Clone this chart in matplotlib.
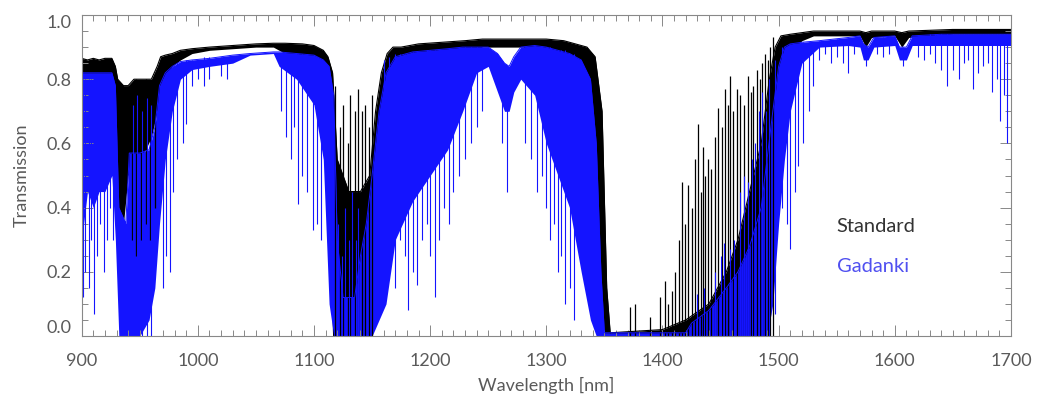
import numpy as np
import matplotlib.pyplot as plt

# ---- Standard atmosphere (black): dense part of the line forest ----
std_wl = [900, 905, 910, 915, 920, 926, 929, 931, 936, 940, 945, 950, 955, 960, 965, 968,
          972, 978, 985, 995, 1010, 1030, 1050, 1065, 1075, 1090, 1100, 1108, 1112, 1116,
          1120, 1130, 1140, 1148, 1153, 1158, 1163, 1168, 1175, 1190, 1210, 1230, 1245,
          1260, 1280, 1300, 1315, 1325, 1335, 1342, 1348, 1352, 1355, 1400, 1420, 1440,
          1455, 1465, 1475, 1485, 1492, 1497, 1502, 1510, 1520, 1530, 1570, 1575, 1580,
          1600, 1606, 1612, 1650, 1700]
std_hi = [0.865, 0.86, 0.865, 0.86, 0.865, 0.865, 0.84, 0.80, 0.78, 0.78, 0.80, 0.80, 0.80,
          0.80, 0.84, 0.87, 0.875, 0.88, 0.89, 0.895, 0.90, 0.905, 0.91, 0.912, 0.912, 0.91,
          0.905, 0.89, 0.87, 0.82, 0.55, 0.45, 0.45, 0.50, 0.70, 0.82, 0.88, 0.90, 0.90,
          0.91, 0.915, 0.92, 0.925, 0.925, 0.925, 0.925, 0.92, 0.91, 0.90, 0.87, 0.70, 0.15,
          0.01, 0.02, 0.05, 0.10, 0.20, 0.30, 0.45, 0.60, 0.80, 0.90, 0.935, 0.94, 0.945,
          0.95, 0.95, 0.945, 0.95, 0.95, 0.945, 0.95, 0.955, 0.955]
std_lo = [0.76, 0.78, 0.78, 0.78, 0.78, 0.78, 0.60, 0.35, 0.35, 0.50, 0.55, 0.55, 0.58,
          0.62, 0.70, 0.75, 0.80, 0.84, 0.86, 0.88, 0.89, 0.895, 0.90, 0.90, 0.88, 0.86,
          0.82, 0.75, 0.45, 0.00, 0.00, 0.00, 0.00, 0.00, 0.10, 0.30, 0.50, 0.70, 0.76,
          0.80, 0.82, 0.86, 0.90, 0.90, 0.90, 0.86, 0.78, 0.60, 0.30, 0.05, 0.00, 0.00,
          0.00, 0.00, 0.00, 0.00, 0.00, 0.00, 0.00, 0.00, 0.00, 0.30, 0.70, 0.88, 0.92,
          0.935, 0.935, 0.90, 0.93, 0.935, 0.90, 0.93, 0.94, 0.94]

# individual lines / windows of the standard spectrum
std_line_wl = [943, 947, 951, 955, 959, 963,
               1118, 1122, 1125, 1129, 1131, 1135, 1138, 1141, 1144, 1147, 1150,
               1372, 1376, 1389, 1398, 1402, 1405, 1408, 1411, 1414, 1416.5, 1419, 1422,
               1425, 1428, 1430.3, 1433, 1435, 1437, 1439.4, 1442, 1445, 1448, 1451,
               1453.8, 1456, 1458.1, 1461, 1463.9, 1467, 1470, 1473.9, 1476, 1478, 1481.1,
               1484, 1486, 1488.2, 1491, 1493, 1495.4]
std_line_lo = [0.30, 0.25, 0.30, 0.35, 0.30, 0.40,
               0.0, 0.0, 0.0, 0.0, 0.0, 0.0, 0.0, 0.0, 0.0, 0.0, 0.0,
               0.0, 0.0, 0.0, 0.0, 0.0, 0.0, 0.0, 0.0, 0.0, 0.0, 0.0, 0.0,
               0.0, 0.0, 0.0, 0.0, 0.0, 0.0, 0.0, 0.0, 0.0, 0.0, 0.0,
               0.0, 0.0, 0.0, 0.0, 0.0, 0.0, 0.0, 0.0, 0.0, 0.0, 0.0,
               0.0, 0.0, 0.0, 0.0, 0.0, 0.0]
std_line_hi = [0.78, 0.80, 0.77, 0.80, 0.79, 0.82,
               0.78, 0.65, 0.72, 0.60, 0.75, 0.70, 0.77, 0.70, 0.72, 0.65, 0.75,
               0.09, 0.10, 0.06, 0.12, 0.17, 0.10, 0.14, 0.20, 0.30, 0.48, 0.35, 0.47,
               0.40, 0.55, 0.66, 0.45, 0.59, 0.50, 0.55, 0.52, 0.62, 0.71, 0.65,
               0.77, 0.72, 0.81, 0.70, 0.77, 0.75, 0.72, 0.81, 0.76, 0.78, 0.83,
               0.80, 0.85, 0.88, 0.86, 0.90, 0.93]

# ---- Gadanki (blue) ----
gad_wl = [900, 905, 910, 915, 920, 926, 929, 932, 938, 941, 950, 958, 963, 967, 972, 978,
          985, 995, 1010, 1030, 1045, 1065, 1070, 1085, 1100, 1108, 1113, 1117, 1120,
          1125, 1135, 1140, 1145, 1150, 1156, 1162, 1170, 1185, 1200, 1215, 1228, 1240,
          1250, 1258, 1264, 1268, 1272, 1278, 1290, 1300, 1310, 1320, 1330, 1338, 1343,
          1347, 1350, 1420, 1425, 1440, 1455, 1465, 1475, 1485, 1490, 1495, 1500, 1505,
          1510, 1520, 1535, 1560, 1570, 1573, 1577, 1582, 1600, 1604, 1610, 1615, 1640,
          1660, 1700]
gad_hi = [0.82, 0.82, 0.82, 0.82, 0.82, 0.82, 0.78, 0.40, 0.35, 0.57, 0.57, 0.58, 0.65,
          0.78, 0.82, 0.84, 0.855, 0.86, 0.865, 0.875, 0.88, 0.885, 0.885, 0.88, 0.875,
          0.86, 0.84, 0.75, 0.30, 0.12, 0.12, 0.25, 0.35, 0.50, 0.70, 0.82, 0.87, 0.885,
          0.89, 0.895, 0.90, 0.90, 0.90, 0.88, 0.85, 0.84, 0.87, 0.90, 0.905, 0.90, 0.89,
          0.88, 0.86, 0.80, 0.60, 0.20, 0.01, 0.01, 0.04, 0.08, 0.15, 0.20, 0.28, 0.40,
          0.55, 0.70, 0.84, 0.90, 0.91, 0.915, 0.92, 0.93, 0.935, 0.91, 0.90, 0.93, 0.935,
          0.90, 0.90, 0.935, 0.94, 0.94, 0.94]
gad_lo = [0.30, 0.45, 0.40, 0.45, 0.45, 0.50, 0.30, 0.00, 0.00, 0.00, 0.00, 0.05, 0.15,
          0.35, 0.55, 0.70, 0.80, 0.83, 0.84, 0.85, 0.875, 0.88, 0.84, 0.80, 0.72, 0.55,
          0.10, 0.00, 0.00, 0.00, 0.00, 0.00, 0.00, 0.00, 0.05, 0.10, 0.30, 0.42, 0.50,
          0.58, 0.70, 0.82, 0.84, 0.76, 0.70, 0.70, 0.76, 0.80, 0.75, 0.60, 0.50, 0.40,
          0.20, 0.05, 0.00, 0.00, 0.00, 0.00, 0.00, 0.00, 0.00, 0.00, 0.00, 0.00, 0.00,
          0.10, 0.35, 0.55, 0.70, 0.85, 0.90, 0.905, 0.90, 0.86, 0.86, 0.90, 0.905, 0.86,
          0.86, 0.905, 0.905, 0.905, 0.905]

gad_line_wl = [901, 903, 906, 908, 911, 913, 916, 919, 922, 924, 927,
               944, 948, 952, 956, 960,
               970, 973, 976, 979, 982, 987, 990, 995, 1000, 1005, 1010, 1020, 1025,
               1072, 1076, 1080, 1083, 1086, 1090, 1094, 1099, 1103, 1106,
               1121, 1124, 1127, 1130, 1133, 1136, 1138,
               1160, 1165, 1170, 1174, 1178, 1181, 1185, 1189, 1193, 1197, 1200, 1204,
               1208, 1212, 1216, 1220, 1225, 1230, 1235, 1240, 1245, 1262, 1266,
               1282, 1287, 1292, 1296, 1300, 1303, 1307, 1310, 1313, 1316, 1320, 1324,
               1430, 1436, 1445, 1450, 1453, 1458, 1462, 1467, 1470, 1474, 1477, 1480,
               1483, 1486, 1489, 1492,
               1497, 1503, 1507, 1510, 1514, 1517, 1521, 1526, 1530,
               1535, 1540, 1545, 1550, 1555, 1560, 1565, 1575, 1585, 1590, 1595, 1607,
               1620, 1625, 1630, 1635, 1640, 1645, 1650, 1655, 1660, 1663, 1667, 1672,
               1676, 1680, 1684, 1688, 1691, 1694, 1697]
gad_line_lo = [0.12, 0.20, 0.15, 0.30, 0.07, 0.25, 0.35, 0.20, 0.30, 0.40, 0.30,
               0.0, 0.0, 0.0, 0.0, 0.0,
               0.15, 0.25, 0.20, 0.45, 0.55, 0.60, 0.66, 0.78, 0.80, 0.78, 0.80, 0.81, 0.80,
               0.70, 0.62, 0.55, 0.65, 0.41, 0.50, 0.45, 0.33, 0.35, 0.30,
               0.0, 0.0, 0.0, 0.0, 0.0, 0.0, 0.0,
               0.10, 0.20, 0.15, 0.30, 0.25, 0.08, 0.20, 0.16, 0.30, 0.35, 0.25, 0.12,
               0.30, 0.40, 0.35, 0.45, 0.50, 0.55, 0.60, 0.65, 0.70, 0.60, 0.45,
               0.60, 0.55, 0.45, 0.50, 0.40, 0.30, 0.35, 0.20, 0.25, 0.10, 0.15, 0.05,
               0.0, 0.0, 0.0, 0.0, 0.0, 0.0, 0.0, 0.0, 0.0, 0.0, 0.0, 0.0,
               0.0, 0.0, 0.0, 0.0,
               0.07, 0.40, 0.35, 0.27, 0.45, 0.53, 0.60, 0.70, 0.78,
               0.86, 0.88, 0.85, 0.87, 0.85, 0.82, 0.88, 0.84, 0.88, 0.87, 0.88, 0.84,
               0.87, 0.86, 0.88, 0.85, 0.83, 0.78, 0.83, 0.80, 0.85, 0.86, 0.77, 0.82,
               0.84, 0.85, 0.76, 0.80, 0.67, 0.75, 0.60]
gad_line_hi = [0.80, 0.80, 0.80, 0.80, 0.80, 0.80, 0.80, 0.80, 0.80, 0.80, 0.80,
               0.72, 0.75, 0.70, 0.74, 0.72,
               0.80, 0.82, 0.83, 0.84, 0.85, 0.85, 0.86, 0.86, 0.86, 0.87, 0.87, 0.87, 0.87,
               0.88, 0.88, 0.88, 0.88, 0.88, 0.88, 0.87, 0.87, 0.87, 0.86,
               0.35, 0.25, 0.40, 0.30, 0.45, 0.30, 0.40,
               0.86, 0.87, 0.88, 0.88, 0.88, 0.88, 0.885, 0.885, 0.885, 0.89, 0.89, 0.89,
               0.89, 0.89, 0.895, 0.895, 0.90, 0.90, 0.90, 0.90, 0.90, 0.86, 0.84,
               0.90, 0.90, 0.90, 0.90, 0.90, 0.90, 0.89, 0.89, 0.89, 0.89, 0.88, 0.88,
               0.13, 0.15, 0.20, 0.25, 0.29, 0.27, 0.30, 0.45, 0.50, 0.48, 0.55, 0.60,
               0.70, 0.76, 0.70, 0.80,
               0.86, 0.90, 0.90, 0.91, 0.91, 0.91, 0.915, 0.915, 0.915,
               0.92, 0.92, 0.92, 0.925, 0.925, 0.925, 0.925, 0.90, 0.93, 0.93, 0.935, 0.90,
               0.935, 0.935, 0.94, 0.94, 0.94, 0.94, 0.94, 0.94, 0.94, 0.94, 0.94, 0.94,
               0.94, 0.94, 0.94, 0.94, 0.94, 0.94, 0.94]

xticks = [900, 1000, 1100, 1200, 1300, 1400, 1500, 1600, 1700]
yticks = [0.0, 0.2, 0.4, 0.6, 0.8, 1.0]

BLUE = '#1414ff'
GRAY = '#5a5a5a'

plt.rcParams['font.family'] = ['Lato', 'DejaVu Sans']

fig = plt.figure(figsize=(10.39, 3.96), dpi=100)
ax = fig.add_axes([0.0786, 0.1515, 0.8944, 0.8106])

# standard first, Gadanki drawn over it
ax.fill_between(std_wl, std_lo, std_hi, color='black', linewidth=0)
ax.vlines(std_line_wl, std_line_lo, std_line_hi, color='black', linewidth=0.9)
ax.plot(std_wl, std_hi, color='black', linewidth=0.8)

ax.fill_between(gad_wl, gad_lo, gad_hi, color=BLUE, linewidth=0)
ax.vlines(gad_line_wl, gad_line_lo, gad_line_hi, color=BLUE, linewidth=0.8)
ax.plot(gad_wl, gad_hi, color=BLUE, linewidth=0.7)

ax.text(1550, 0.34, 'Standard', color='#333333', fontsize=14.5, va='center')
ax.text(1550, 0.218, 'Gadanki', color='#5050f0', fontsize=14.5, va='center')

ax.set_xlim(900, 1700)
ax.set_ylim(0, 1.0)
ax.set_xticks(xticks)
ax.set_yticks(yticks)
ax.set_yticklabels([f'{v:.1f}' for v in yticks])
ax.set_xticks(np.arange(900, 1701, 10), minor=True)
ax.set_yticks(np.arange(0, 1.001, 0.05), minor=True)
ax.tick_params(which='both', direction='in', top=True, right=True, colors='#888888',
               labelcolor=GRAY, labelsize=13, width=0.7)
ax.tick_params(which='major', length=8)
ax.tick_params(which='minor', length=4)
ax.tick_params(axis='x', pad=12)
ax.tick_params(axis='y', pad=7)
lbls = ax.get_yticklabels()
lbls[0].set_va('bottom')
lbls[-1].set_va('top')
for s in ax.spines.values():
    s.set_color('#888888')
    s.set_linewidth(0.8)

ax.set_xlabel('Wavelength [nm]', fontsize=13, color=GRAY, labelpad=6)
ax.set_ylabel('Transmission', fontsize=13, color=GRAY, labelpad=12)

fig.savefig('out.png', dpi=100)
